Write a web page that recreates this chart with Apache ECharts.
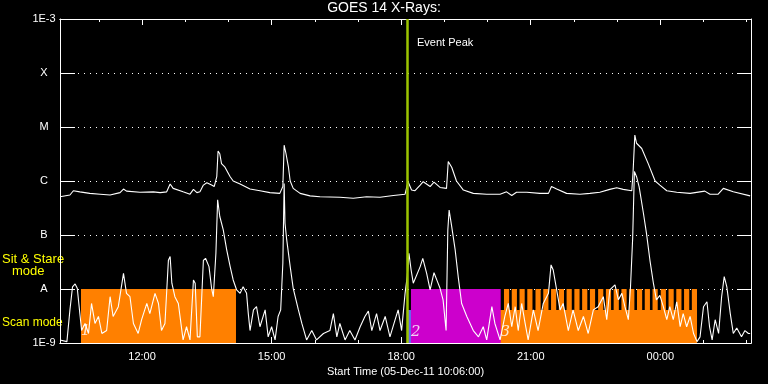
<!DOCTYPE html>
<html>
<head>
<meta charset="utf-8">
<script src="https://cdn.jsdelivr.net/npm/echarts@6/dist/echarts.min.js"></script>
<style>
html,body{margin:0;padding:0;background:#000;}
#chart{width:768px;height:384px;}
</style>
</head>
<body>
<div id="chart"></div>
<script>
// ---- data (time in decimal hours of 05-Dec-11; >24 = next day) ----
const xStart = 10.1;   // 10:06
const xEnd = 26.1;     // 02:06 next day
const majorTickHours = [12, 15, 18, 21, 24];
const minorTickHours = [11, 12, 13, 14, 15, 16, 17, 18, 19, 20, 21, 22, 23, 24, 25, 26];
const yTickLabels = {'-9': '1E-9', '-8': 'A', '-7': 'B', '-6': 'C', '-5': 'M', '-4': 'X', '-3': '1E-3'};

// GOES long channel (1-8 A), W/m^2
const longFlux = [
 [10.10,5.1e-7],[10.33,5.5e-7],[10.41,6.6e-7],[10.56,6.3e-7],[10.79,5.9e-7],[11.03,5.7e-7],[11.26,5.5e-7],
 [11.49,6.1e-7],[11.57,7.1e-7],[11.64,6.5e-7],[11.95,6.2e-7],[12.26,6.3e-7],[12.42,6.1e-7],[12.57,6.3e-7],
 [12.65,8.8e-7],[12.72,7.3e-7],[12.95,6.3e-7],[13.11,5.7e-7],[13.19,7.0e-7],[13.27,6.1e-7],[13.34,6.3e-7],
 [13.42,8.4e-7],[13.50,9.3e-7],[13.61,8.4e-7],[13.67,7.9e-7],[13.73,1.2e-6],[13.76,3.6e-6],[13.80,3.2e-6],
 [13.84,2.1e-6],[13.92,1.8e-6],[14.04,1.2e-6],[14.11,1.0e-6],[14.27,8.8e-7],[14.50,7.1e-7],[14.73,6.6e-7],
 [14.96,6.1e-7],[15.19,5.9e-7],[15.26,7.9e-7],[15.29,4.6e-6],[15.33,3.3e-6],[15.39,1.8e-6],[15.43,1.0e-6],
 [15.50,7.3e-7],[15.66,5.9e-7],[15.89,5.3e-7],[16.12,5.1e-7],[16.58,5.0e-7],[16.89,4.8e-7],[17.20,5.1e-7],
 [17.51,5.0e-7],[17.82,5.4e-7],[18.09,5.7e-7],[18.16,9.7e-7],[18.24,6.8e-7],[18.32,6.6e-7],[18.44,8.4e-7],
 [18.51,9.7e-7],[18.67,7.9e-7],[18.76,9.5e-7],[18.90,7.6e-7],[19.05,7.3e-7],[19.09,2.3e-6],[19.11,2.5e-6],
 [19.17,1.8e-6],[19.28,1.0e-6],[19.44,6.8e-7],[19.67,5.9e-7],[19.98,5.7e-7],[20.29,5.7e-7],[20.44,6.3e-7],
 [20.56,5.4e-7],[20.67,6.2e-7],[20.91,6.2e-7],[21.21,5.9e-7],[21.41,5.9e-7],[21.48,7.9e-7],[21.60,7.1e-7],
 [21.83,5.9e-7],[22.14,5.7e-7],[22.37,5.9e-7],[22.60,6.2e-7],[22.83,7.0e-7],[22.99,7.5e-7],[23.14,7.0e-7],
 [23.34,6.6e-7],[23.37,1.5e-6],[23.41,7.1e-6],[23.45,5.0e-6],[23.57,4.0e-6],[23.72,2.1e-6],[23.88,1.0e-6],
 [23.99,8.4e-7],[24.15,6.6e-7],[24.38,6.2e-7],[24.69,5.9e-7],[25.03,6.5e-7],[25.15,5.7e-7],[25.34,5.7e-7],
 [25.46,7.3e-7],[25.69,6.3e-7],[26.08,5.3e-7]
];

// GOES short channel (0.5-4 A), W/m^2
const shortFlux = [
 [10.10,1.14e-9],[10.26,1.06e-9],[10.33,4.1e-9],[10.39,1.1e-8],[10.45,1.24e-8],[10.50,1.03e-8],[10.56,3.5e-9],
 [10.60,1.7e-9],[10.68,2.3e-9],[10.76,1.5e-9],[10.83,5.4e-9],[10.91,2.3e-9],[10.99,3.1e-9],[11.07,1.5e-9],
 [11.18,1.7e-9],[11.26,7.2e-9],[11.33,3.1e-9],[11.45,4.7e-9],[11.57,1.95e-8],[11.64,8.3e-9],[11.72,7.2e-9],
 [11.80,2.3e-9],[11.91,1.5e-9],[11.99,2.7e-9],[12.11,5.4e-9],[12.18,3.5e-9],[12.30,8.3e-9],[12.38,5.4e-9],
 [12.45,1.7e-9],[12.53,2.3e-9],[12.61,3.4e-8],[12.65,4.0e-8],[12.69,1.28e-8],[12.76,7.2e-9],[12.84,5.4e-9],
 [12.95,1.14e-9],[13.03,2.0e-9],[13.11,1.14e-9],[13.19,1.47e-8],[13.23,1.28e-8],[13.28,1.3e-9],[13.34,1.3e-9],
 [13.42,3.4e-8],[13.47,3.7e-8],[13.55,2.6e-8],[13.61,1.03e-8],[13.65,7.2e-9],[13.71,4.6e-8],[13.75,4.5e-7],
 [13.80,2.2e-7],[13.88,1.24e-7],[13.96,5.3e-8],[14.04,2.6e-8],[14.11,1.47e-8],[14.19,9.6e-9],[14.27,8.3e-9],
 [14.34,1.1e-8],[14.42,8.3e-9],[14.46,3.5e-9],[14.50,1.7e-9],[14.58,4.1e-9],[14.65,4.7e-9],[14.73,2.0e-9],
 [14.85,4.1e-9],[14.92,1.3e-9],[15.00,2.0e-9],[15.08,1.14e-9],[15.15,3.1e-9],[15.21,4.1e-9],[15.26,3.0e-8],
 [15.29,9.0e-7],[15.31,1.65e-7],[15.35,8.1e-8],[15.43,2.6e-8],[15.50,1.03e-8],[15.62,4.1e-9],[15.70,2.3e-9],
 [15.81,1.14e-9],[15.93,1.7e-9],[16.04,1.14e-9],[16.20,1.5e-9],[16.35,1.7e-9],[16.43,3.5e-9],[16.51,1.3e-9],
 [16.58,2.3e-9],[16.70,1.14e-9],[16.81,1.7e-9],[16.93,1.14e-9],[17.05,2.0e-9],[17.16,3.1e-9],[17.24,3.9e-9],
 [17.32,1.7e-9],[17.43,3.5e-9],[17.51,1.7e-9],[17.63,3.1e-9],[17.74,1.3e-9],[17.86,2.7e-9],[17.93,4.1e-9],
 [18.01,1.7e-9],[18.09,8.3e-9],[18.14,1.7e-8],[18.18,4.6e-8],[18.23,2.25e-8],[18.28,1.28e-8],[18.44,2.6e-8],
 [18.50,3.7e-8],[18.59,1.95e-8],[18.67,9.6e-9],[18.76,2.0e-8],[18.84,1.37e-8],[18.90,1.03e-8],[18.97,6.3e-9],
 [19.04,1.7e-9],[19.08,1.24e-7],[19.11,2.9e-7],[19.17,1.43e-7],[19.25,5.3e-8],[19.32,1.7e-8],[19.40,5.4e-9],
 [19.52,3.1e-9],[19.67,1.7e-9],[19.79,1.3e-9],[19.90,2.0e-9],[19.98,1.14e-9],[20.10,4.7e-9],[20.17,2.3e-9],
 [20.29,1.14e-9],[20.40,3.1e-9],[20.48,5.4e-9],[20.56,2.0e-9],[20.64,4.7e-9],[20.71,1.7e-9],[20.79,5.4e-9],
 [20.87,2.3e-9],[20.94,1.14e-9],[21.06,4.1e-9],[21.17,1.7e-9],[21.29,5.4e-9],[21.41,8.3e-9],[21.47,2.8e-8],
 [21.52,2.25e-8],[21.60,9.6e-9],[21.68,4.1e-9],[21.75,5.4e-9],[21.87,1.7e-9],[21.98,4.1e-9],[22.10,1.7e-9],
 [22.22,3.1e-9],[22.33,1.5e-9],[22.45,4.1e-9],[22.56,4.7e-9],[22.68,7.2e-9],[22.76,2.7e-9],[22.83,9.6e-9],
 [22.95,1.19e-8],[23.03,6.3e-9],[23.11,8.3e-9],[23.18,4.7e-9],[23.26,2.7e-9],[23.31,1.1e-8],[23.36,8.7e-8],
 [23.40,1.5e-6],[23.45,1.2e-6],[23.51,7.8e-7],[23.61,2.5e-7],[23.68,1.07e-7],[23.76,3.4e-8],[23.84,1.28e-8],
 [23.91,6.3e-9],[23.99,7.6e-9],[24.07,4.7e-9],[24.15,2.7e-9],[24.22,4.7e-9],[24.30,2.7e-9],[24.38,5.8e-9],
 [24.46,2.0e-9],[24.53,3.5e-9],[24.61,2.0e-9],[24.69,3.1e-9],[24.77,1.5e-9],[24.85,1.06e-9],[24.92,1.3e-9],
 [25.00,4.7e-9],[25.08,5.8e-9],[25.14,2.0e-9],[25.20,1.14e-9],[25.27,2.7e-9],[25.35,1.5e-9],[25.42,7.2e-9],
 [25.48,1.7e-8],[25.54,1.1e-8],[25.62,3.5e-9],[25.69,1.5e-9],[25.77,1.9e-9],[25.88,1.3e-9],[25.96,1.7e-9],
 [26.04,1.5e-9],[26.08,1.5e-9]
];

// observing mode blocks: [start hour, end hour, low flux, high flux]
const scanBlocks = [[10.586, 14.175, 1e-9, 1e-8], [20.29, 24.85, 1e-9, 4.08e-9]];
const stareBlocks = [[18.227, 20.304, 1e-9, 1e-8]];
const transitionBlocks = [[18.157, 18.227, 1e-9, 4.08e-9]];
const scanStripes = [
 [20.38,20.50],[20.56,20.68],[20.74,20.86],[20.92,21.04],[21.11,21.23],[21.29,21.41],[21.47,21.59],
 [21.65,21.77],[21.83,21.95],[22.01,22.13],[22.19,22.31],[22.37,22.49],[22.56,22.68],[22.74,22.86],
 [22.92,23.04],[23.10,23.22],[23.28,23.40],[23.46,23.58],[23.64,23.76],[23.82,23.94],[24.01,24.13],
 [24.19,24.31],[24.37,24.49],[24.55,24.67],[24.73,24.85]
];
const stripeLow = 4.08e-9, stripeHigh = 1e-8;
const eventPeakHour = 18.127;
const eventNumbers = [[10.69, 1.65e-9, '1'], [18.34, 1.6e-9, '2'], [20.41, 1.6e-9, '3']];

// ---- chart ----
function fmtHour(v) {
  const h = ((Math.round(v) % 24) + 24) % 24;
  return (h < 10 ? '0' : '') + h + ':00';
}
const FONT = 'Liberation Sans, Arial, sans-serif';
const white = '#ffffff';

function rectItem(color) {
  return function (params, api) {
    const p0 = api.coord([api.value(0), api.value(3)]);
    const p1 = api.coord([api.value(1), api.value(2)]);
    return {
      type: 'rect',
      shape: {x: p0[0], y: p0[1], width: p1[0] - p0[0], height: p1[1] - p0[1]},
      style: {fill: color}
    };
  };
}

const stripeData = scanStripes.map(s => [s[0], s[1], stripeLow, stripeHigh]);

const baseX = {
  type: 'value', min: xStart, max: xEnd,
  axisLine: {show: true, lineStyle: {color: white, width: 1}},
  splitLine: {show: false},
  axisLabel: {show: false}
};
const baseY = {
  type: 'log', logBase: 10, min: 1e-9, max: 1e-3, interval: 1,
  axisLine: {show: true, lineStyle: {color: white, width: 1}},
  splitLine: {show: false}
};

const chart = echarts.init(document.getElementById('chart'), null, {renderer: 'canvas'});
chart.setOption({
  backgroundColor: '#000',
  animation: false,
  title: {
    text: 'GOES 14 X-Rays:', left: 'center', top: 1, padding: 0,
    textStyle: {color: white, fontSize: 14, fontWeight: 'normal', fontFamily: FONT}
  },
  grid: {left: 60, right: 17, top: 19, bottom: 41, containLabel: false},
  xAxis: [
    Object.assign({}, baseX, {
      position: 'bottom',
      axisTick: {show: true, inside: true, length: 6, customValues: majorTickHours, lineStyle: {color: white}},
      axisLabel: {show: true, customValues: majorTickHours, formatter: fmtHour, color: white, fontSize: 11, fontFamily: FONT, margin: 8},
      name: 'Start Time (05-Dec-11 10:06:00)', nameLocation: 'middle', nameGap: 22,
      nameTextStyle: {color: white, fontSize: 11, fontFamily: FONT}
    }),
    Object.assign({}, baseX, {
      position: 'bottom',
      axisTick: {show: true, inside: true, length: 3, customValues: minorTickHours, lineStyle: {color: white}}
    }),
    Object.assign({}, baseX, {
      position: 'top',
      axisTick: {show: true, inside: true, length: 6, customValues: majorTickHours, lineStyle: {color: white}}
    }),
    Object.assign({}, baseX, {
      position: 'top',
      axisTick: {show: true, inside: true, length: 3, customValues: minorTickHours, lineStyle: {color: white}}
    })
  ],
  yAxis: [
    Object.assign({}, baseY, {
      position: 'left',
      axisTick: {show: true, inside: true, length: 15, lineStyle: {color: white}},
      axisLabel: {
        show: true, color: white, fontSize: 11, fontFamily: FONT, align: 'center', margin: 16,
        formatter: v => yTickLabels[String(Math.round(Math.log10(v)))] || ''
      },
      splitLine: {show: true, lineStyle: {color: white, type: [1, 5], width: 1}}
    }),
    Object.assign({}, baseY, {
      position: 'right',
      axisTick: {show: true, inside: true, length: 14, lineStyle: {color: white}},
      axisLabel: {show: false}
    })
  ],
  graphic: [
    {type: 'text', left: 2, top: 253, style: {text: 'Sit & Stare', fill: '#ffff00', font: '13px ' + FONT}},
    {type: 'text', left: 12, top: 265, style: {text: 'mode', fill: '#ffff00', font: '13px ' + FONT}},
    {type: 'text', left: 2, top: 317, style: {text: 'Scan mode', fill: '#ffff00', font: '12px ' + FONT}},
    {type: 'text', left: 417, top: 37, style: {text: 'Event Peak', fill: white, font: '11px ' + FONT}}
  ],
  series: [
    {type: 'custom', name: 'scan', renderItem: rectItem('#ff8000'), data: scanBlocks, z: 1, silent: true},
    {type: 'custom', name: 'stripes', renderItem: rectItem('#ff8000'), data: stripeData, z: 1, silent: true},
    {type: 'custom', name: 'stare', renderItem: rectItem('#cc00cc'), data: stareBlocks, z: 1, silent: true},
    {type: 'custom', name: 'transition', renderItem: rectItem('#6666ee'), data: transitionBlocks, z: 1, silent: true},
    {
      type: 'scatter', name: 'numbers', symbolSize: 0, z: 4, silent: true,
      data: eventNumbers.map(e => ({value: [e[0], e[1]], name: e[2]})),
      label: {show: true, formatter: p => p.name, position: 'inside', color: '#ffffff',
              fontSize: 15, fontFamily: 'DejaVu Serif, serif', fontStyle: 'italic'}
    },
    {
      type: 'line', name: 'long', data: longFlux, showSymbol: false, symbol: 'none',
      lineStyle: {color: white, width: 1.1}, z: 3, silent: true
    },
    {
      type: 'line', name: 'short', data: shortFlux, showSymbol: false, symbol: 'none',
      lineStyle: {color: white, width: 1.1}, z: 3, silent: true,
      markLine: {
        silent: true, symbol: 'none', z: 6, label: {show: false},
        lineStyle: {color: '#9cc400', width: 2.5, type: 'solid'},
        data: [{xAxis: eventPeakHour}]
      }
    }
  ]
});
</script>
</body>
</html>
